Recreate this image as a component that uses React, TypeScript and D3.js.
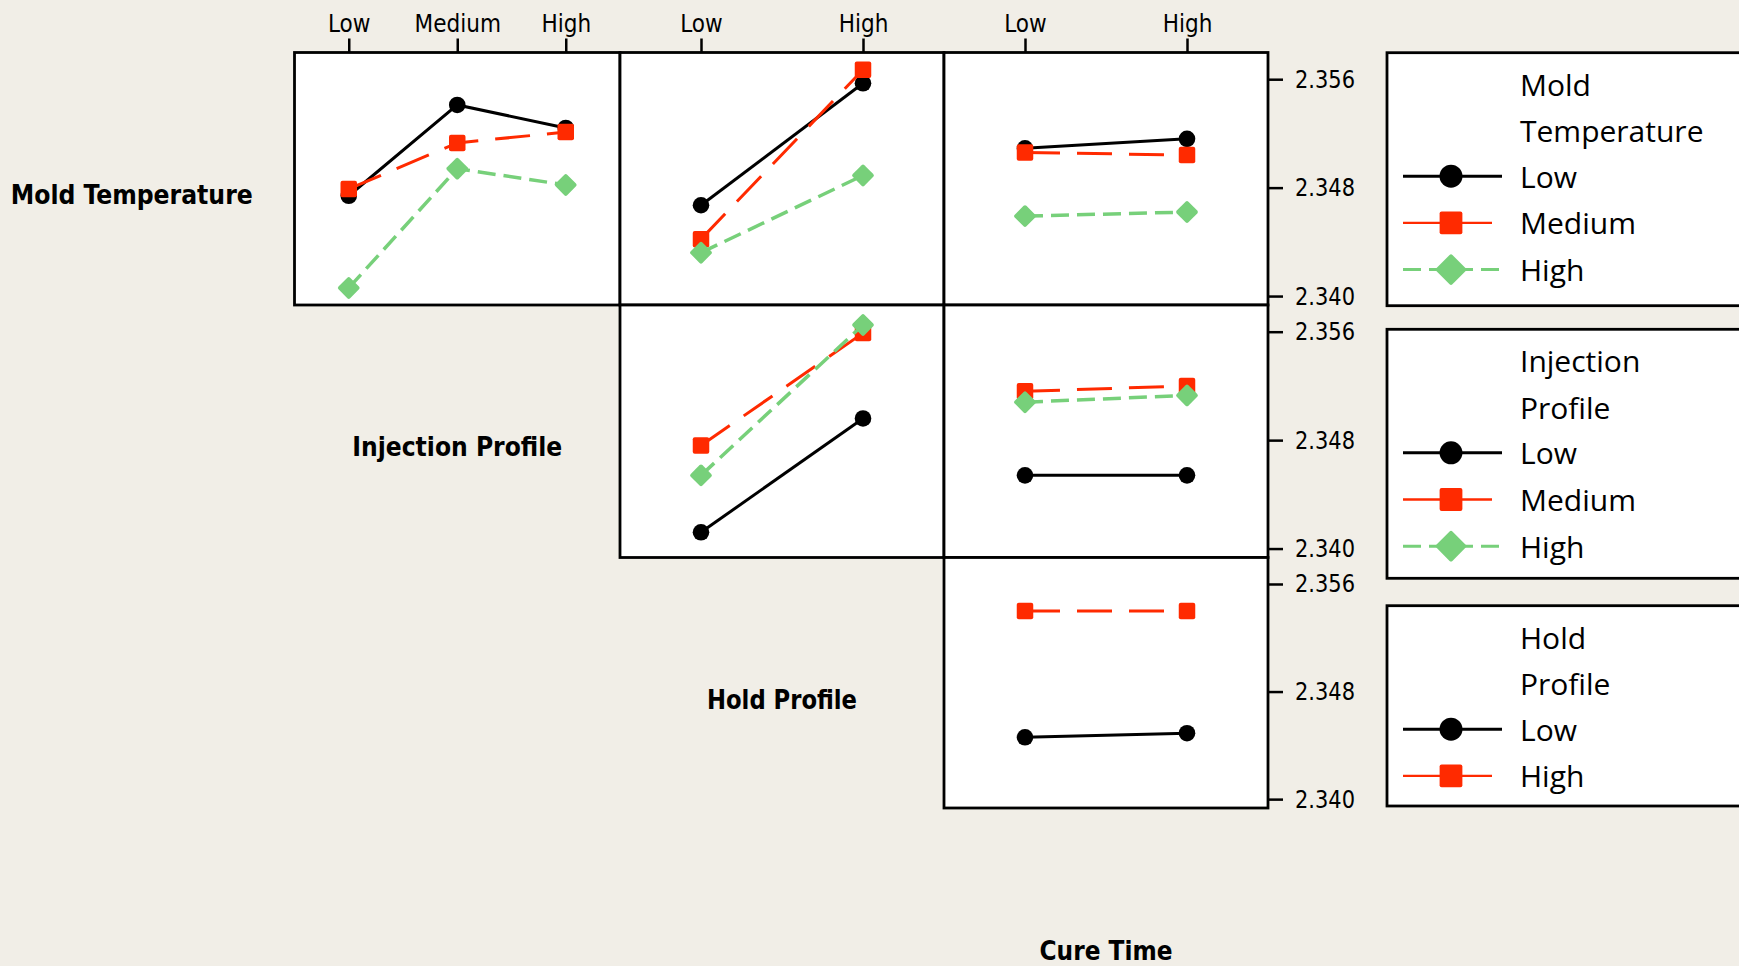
import React, { useEffect, useRef } from "react";
import * as d3 from "d3";

// factor names and levels
const factorNames = ["Mold Temperature", "Injection Profile", "Hold Profile", "Cure Time"];
const legendTitles = [["Mold", "Temperature"], ["Injection", "Profile"], ["Hold", "Profile"]];
const moldLevels = ["Low", "Medium", "High"];
const injectionLevels = ["Low", "Medium", "High"];
const holdLevels = ["Low", "High"];
const cureLevels = ["Low", "High"];
const yTicks = [2.34, 2.348, 2.356];

// row 1: Mold Temperature traces
const moldLowByInjection = [2.3474, 2.3541, 2.3524];
const moldMediumByInjection = [2.3479, 2.3513, 2.3521];
const moldHighByInjection = [2.3406, 2.3494, 2.3482];
const moldLowByHold = [2.3467, 2.3557];
const moldMediumByHold = [2.3442, 2.3567];
const moldHighByHold = [2.3432, 2.3489];
const moldLowByCure = [2.3509, 2.3516];
const moldMediumByCure = [2.3506, 2.3504];
const moldHighByCure = [2.3459, 2.3462];

// row 2: Injection Profile traces
const injectionLowByHold = [2.3412, 2.3496];
const injectionMediumByHold = [2.3476, 2.3559];
const injectionHighByHold = [2.3454, 2.3565];
const injectionLowByCure = [2.3454, 2.3454];
const injectionMediumByCure = [2.3516, 2.352];
const injectionHighByCure = [2.3508, 2.3513];

// row 3: Hold Profile traces
const holdLowByCure = [2.3446, 2.3449];
const holdHighByCure = [2.354, 2.354];

const W = 1739;
const H = 966;
const colX = [294.5, 620, 944, 1268];
const rowY = [52.5, 305, 557.5, 808];
const yDomain = [2.33934, 2.35797];
const bg = "#F1EEE7";
const axisFont = "'DejaVu Sans Condensed', 'DejaVu Sans', sans-serif";
const legendFont = "'Open Sans', sans-serif";

const styles = [
  { color: "#000000", dash: null, width: 3, shape: "circle" },
  { color: "#FF2A00", dash: "35,17", width: 3, shape: "square" },
  { color: "#77D07A", dash: "18,8", width: 3.5, shape: "diamond" },
];

const panels = [
  { row: 0, col: 0, levels: injectionLevels, series: [moldLowByInjection, moldMediumByInjection, moldHighByInjection] },
  { row: 0, col: 1, levels: holdLevels, series: [moldLowByHold, moldMediumByHold, moldHighByHold] },
  { row: 0, col: 2, levels: cureLevels, series: [moldLowByCure, moldMediumByCure, moldHighByCure] },
  { row: 1, col: 1, levels: holdLevels, series: [injectionLowByHold, injectionMediumByHold, injectionHighByHold] },
  { row: 1, col: 2, levels: cureLevels, series: [injectionLowByCure, injectionMediumByCure, injectionHighByCure] },
  { row: 2, col: 2, levels: cureLevels, series: [holdLowByCure, holdHighByCure] },
];

const topAxisLevels = [injectionLevels, holdLevels, cureLevels];
const legendLevels = [moldLevels, injectionLevels, holdLevels];
const legendBoxes = [
  { top: 52.7, bottom: 305.7 },
  { top: 329.3, bottom: 578.3 },
  { top: 605.7, bottom: 806 },
];
const labelWidths = [242, 210, 150, 133];
const labelOffsets = [25, 24.5, 26, 27];

function drawMarker(g, shape, x, y, color, scale) {
  if (shape === "circle") {
    g.append("circle").attr("cx", x).attr("cy", y).attr("r", 8.3 * scale).attr("fill", color);
  } else if (shape === "square") {
    const s = 16.5 * scale;
    g.append("rect")
      .attr("x", x - s / 2).attr("y", y - s / 2)
      .attr("width", s).attr("height", s)
      .attr("rx", 2).attr("fill", color);
  } else {
    const s = 16.5 * scale;
    g.append("rect")
      .attr("x", -s / 2).attr("y", -s / 2)
      .attr("width", s).attr("height", s)
      .attr("rx", 2)
      .attr("transform", `translate(${x},${y}) rotate(45)`)
      .attr("fill", color);
  }
}

export default function App() {
  const ref = useRef(null);

  useEffect(() => {
    const svg = d3.select(ref.current);
    svg.selectAll("*").remove();

    svg.append("rect").attr("width", W).attr("height", H).attr("fill", bg);

    const y = (r) => d3.scaleLinear().domain(yDomain).range([rowY[r + 1], rowY[r]]);

    // panels
    panels.forEach((p) => {
      const g = svg.append("g");
      g.append("rect")
        .attr("x", colX[p.col]).attr("y", rowY[p.row])
        .attr("width", colX[p.col + 1] - colX[p.col])
        .attr("height", rowY[p.row + 1] - rowY[p.row])
        .attr("fill", "#ffffff")
        .attr("stroke", "#000")
        .attr("stroke-width", 2.8);

      const x = d3.scalePoint().domain(p.levels).range([colX[p.col], colX[p.col + 1]]).padding(0.5);
      const yScale = y(p.row);

      p.series.forEach((vals, i) => {
        const st = styles[i];
        const pts = vals.map((v, j) => [x(p.levels[j]), yScale(v)]);
        g.append("path")
          .attr("d", d3.line()(pts))
          .attr("fill", "none")
          .attr("stroke", st.color)
          .attr("stroke-width", st.width)
          .attr("stroke-dasharray", st.dash);
        pts.forEach(([px, py]) => drawMarker(g, st.shape, px, py, st.color, 1));
      });
    });

    // top axes
    topAxisLevels.forEach((levels, c) => {
      const x = d3.scalePoint().domain(levels).range([colX[c], colX[c + 1]]).padding(0.5);
      const ax = svg.append("g")
        .attr("transform", `translate(0,${rowY[0]})`)
        .call(d3.axisTop(x).tickSize(14).tickPadding(7));
      ax.select(".domain").remove();
      ax.selectAll("line").attr("stroke-width", 2.5);
      ax.selectAll("text")
        .attr("font-family", axisFont)
        .style("font-stretch", "condensed")
        .attr("font-size", 24)
        .attr("fill", "#000");
    });

    // right axes
    [0, 1, 2].forEach((r) => {
      const ax = svg.append("g")
        .attr("transform", `translate(${colX[3]},0)`)
        .call(d3.axisRight(y(r)).tickValues(yTicks).tickSize(15).tickPadding(12).tickFormat(d3.format(".3f")));
      ax.select(".domain").remove();
      ax.selectAll("line").attr("stroke-width", 2.5);
      ax.selectAll("text")
        .attr("font-family", axisFont)
        .style("font-stretch", "condensed")
        .attr("font-size", 25)
        .attr("textLength", 60)
        .attr("lengthAdjust", "spacingAndGlyphs")
        .attr("fill", "#000");
    });

    // factor labels on the diagonal
    factorNames.forEach((name, i) => {
      const cx = i === 0 ? colX[0] - (colX[1] - colX[0]) / 2 : (colX[i - 1] + colX[i]) / 2;
      const top = rowY[i];
      const h = i < 3 ? rowY[i + 1] - rowY[i] : rowY[3] - rowY[2];
      svg.append("text")
        .attr("x", cx)
        .attr("y", top + h / 2 + labelOffsets[i])
        .attr("text-anchor", "middle")
        .attr("font-family", axisFont)
        .style("font-stretch", "condensed")
        .attr("font-weight", "bold")
        .attr("font-size", 26)
        .attr("textLength", labelWidths[i])
        .attr("lengthAdjust", "spacingAndGlyphs")
        .text(name);
    });

    // legends
    legendBoxes.forEach((b, k) => {
      const g = svg.append("g");
      g.append("rect")
        .attr("x", 1387).attr("y", b.top)
        .attr("width", 420).attr("height", b.bottom - b.top)
        .attr("fill", "#fff").attr("stroke", "#000").attr("stroke-width", 2.8);
      legendTitles[k].forEach((t, j) => {
        g.append("text")
          .attr("x", 1520).attr("y", b.top + 43 + j * 46.5)
          .attr("font-family", legendFont).attr("font-size", 30)
          .text(t);
      });
      legendLevels[k].forEach((lvl, i) => {
        const st = styles[i];
        const ly = b.top + 123.5 + i * 46.7;
        g.append("line")
          .attr("x1", 1403).attr("x2", st.shape === "square" ? 1492 : 1502)
          .attr("y1", ly).attr("y2", ly)
          .attr("stroke", st.color)
          .attr("stroke-width", st.shape === "square" ? 2.4 : 3)
          .attr("stroke-dasharray", st.dash && st.shape === "diamond" ? st.dash : null);
        drawMarker(g, st.shape, 1451, ly, st.color, 1.38);
        g.append("text")
          .attr("x", 1520).attr("y", ly + 11.5)
          .attr("font-family", legendFont).attr("font-size", 30)
          .text(lvl);
      });
    });
  }, []);

  return (
    <div style={{ position: "absolute", left: 0, top: 0, width: W, height: H, overflow: "hidden" }}>
      <svg ref={ref} width={W} height={H} style={{ display: "block" }} />
    </div>
  );
}
